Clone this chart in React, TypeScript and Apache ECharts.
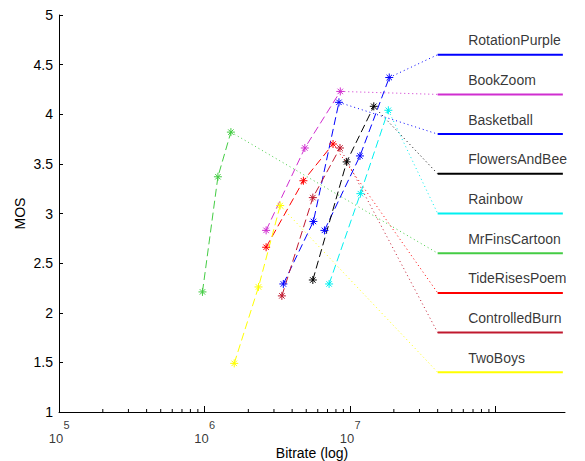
import React, { useEffect, useRef } from 'react';
import * as echarts from 'echarts';

// ---- data (bitrate in bit/s, MOS) ----
const SERIES_NAMES = ['RotationPurple', 'BookZoom', 'Basketball', 'FlowersAndBee', 'Rainbow', 'MrFinsCartoon', 'TideRisesPoem', 'ControlledBurn', 'TwoBoys'];
const SERIES_COLORS = ['#0000ff', '#d02ed0', '#0000ff', '#000000', '#00f0f0', '#44cc44', '#ff0000', '#c0182e', '#ffff00'];

const ROTATION_PURPLE_BITRATE = [6.67e6, 1.17e7, 1.86e7];
const ROTATION_PURPLE_MOS = [2.83, 3.58, 4.37];
const BOOK_ZOOM_BITRATE = [2.65e6, 4.89e6, 8.57e6];
const BOOK_ZOOM_MOS = [2.83, 3.66, 4.23];
const BASKETBALL_BITRATE = [3.48e6, 5.6e6, 8.39e6];
const BASKETBALL_MOS = [2.29, 2.92, 4.12];
const FLOWERS_BITRATE = [5.55e6, 9.48e6, 1.456e7];
const FLOWERS_MOS = [2.33, 3.52, 4.08];
const RAINBOW_BITRATE = [7.18e6, 1.178e7, 1.833e7];
const RAINBOW_MOS = [2.29, 3.2, 4.04];
const MRFINS_BITRATE = [9.68e5, 1.236e6, 1.518e6];
const MRFINS_MOS = [2.21, 3.37, 3.82];
const TIDE_BITRATE = [2.65e6, 4.78e6, 7.64e6];
const TIDE_MOS = [2.66, 3.33, 3.7];
const BURN_BITRATE = [3.4e6, 5.55e6, 8.53e6];
const BURN_MOS = [2.17, 3.16, 3.66];
const TWOBOYS_BITRATE = [1.6e6, 2.35e6, 3.31e6];
const TWOBOYS_MOS = [1.49, 2.26, 3.08];

const BITRATES = [ROTATION_PURPLE_BITRATE, BOOK_ZOOM_BITRATE, BASKETBALL_BITRATE, FLOWERS_BITRATE, RAINBOW_BITRATE, MRFINS_BITRATE, TIDE_BITRATE, BURN_BITRATE, TWOBOYS_BITRATE];
const MOS_VALUES = [ROTATION_PURPLE_MOS, BOOK_ZOOM_MOS, BASKETBALL_MOS, FLOWERS_MOS, RAINBOW_MOS, MRFINS_MOS, TIDE_MOS, BURN_MOS, TWOBOYS_MOS];

// in-plot legend rows
const LEGEND_MOS = [4.6, 4.2, 3.8, 3.4, 3.0, 2.6, 2.2, 1.8, 1.4];
const LEGEND_X = [4e7, 2.9e8];

// axis ticks
const X_MIN = 1e5;
const X_MAX = 3e8;
const Y_MIN = 1;
const MAJOR_TICKS = [1e5, 1e6, 1e7, 1e8];
const LABEL_TICKS = [1e5, 1e6, 1e7];
const LABEL_EXPONENTS = ['5', '6', '7'];
const MINOR_TICKS = [
  2e5, 3e5, 4e5, 5e5, 6e5, 7e5, 8e5, 9e5,
  2e6, 3e6, 4e6, 5e6, 6e6, 7e6, 8e6, 9e6,
  2e7, 3e7, 4e7, 5e7, 6e7, 7e7, 8e7, 9e7,
];

const FONT = "'Liberation Sans', Arial, sans-serif";
const ASTERISK = 'path://M5,0L5,10M0,5L10,5M1.6,1.6L8.4,8.4M1.6,8.4L8.4,1.6';

export default function App() {
  const ref = useRef<HTMLDivElement>(null);

  useEffect(() => {
    if (!ref.current) return;
    const chart = echarts.init(ref.current, undefined, { renderer: 'svg' });

    const series: any[] = [];
    SERIES_NAMES.forEach((name, i) => {
      const color = SERIES_COLORS[i];
      const b = BITRATES[i];
      const m = MOS_VALUES[i];
      const data = b.map((v, k) => [v, m[k]]);
      // dotted connector from last point to legend row
      series.push({
        type: 'line',
        name: name + '-link',
        data: [data[data.length - 1], [LEGEND_X[0], LEGEND_MOS[i]]],
        symbol: 'none',
        lineStyle: { color, width: 1, type: [1, 3] },
        z: 1,
        silent: true,
      });
      // legend line
      series.push({
        type: 'line',
        name: name + '-legend',
        data: [[LEGEND_X[0], LEGEND_MOS[i]], [LEGEND_X[1], LEGEND_MOS[i]]],
        symbol: 'none',
        lineStyle: { color, width: 2, type: 'solid' },
        z: 2,
        silent: true,
      });
      // legend label
      series.push({
        type: 'scatter',
        name: name + '-label',
        data: [[LEGEND_X[0], LEGEND_MOS[i]]],
        symbol: 'circle',
        symbolSize: 1,
        itemStyle: { color: 'transparent' },
        label: {
          show: true,
          formatter: name,
          position: [31, -14],
          align: 'left',
          verticalAlign: 'middle',
          fontSize: 14,
          fontFamily: FONT,
          color: '#000',
        },
        silent: true,
        z: 3,
      });
      // main dashed series with asterisks
      series.push({
        type: 'line',
        name,
        data,
        symbol: ASTERISK,
        symbolSize: 8,
        showSymbol: true,
        itemStyle: { color, borderColor: color, borderWidth: 1 },
        lineStyle: { color, width: 1, type: [8, 4] },
        z: 4,
      });
    });

    // minor ticks on the log x axis
    series.push({
      type: 'custom',
      name: 'minor-ticks',
      data: MINOR_TICKS.map((v) => [v, Y_MIN]),
      silent: true,
      clip: false,
      renderItem: (params: any, api: any) => {
        const p = api.coord([api.value(0), Y_MIN]);
        return {
          type: 'line',
          shape: { x1: p[0], y1: p[1], x2: p[0], y2: p[1] - 3 },
          style: { stroke: '#000', lineWidth: 1 },
        };
      },
      z: 5,
    });

    // x tick labels "10" with superscript exponent, anchored at the major ticks
    series.push({
      type: 'scatter',
      name: 'x-label-base',
      data: LABEL_TICKS.map((v) => [v, Y_MIN]),
      symbol: 'circle',
      symbolSize: 1,
      itemStyle: { color: 'transparent' },
      clip: false,
      silent: true,
      label: {
        show: true,
        formatter: '10',
        position: [-2.5, 26.5],
        align: 'center',
        verticalAlign: 'middle',
        fontSize: 13,
        fontFamily: FONT,
        color: '#000',
      },
      z: 6,
    });
    series.push({
      type: 'scatter',
      name: 'x-label-exp',
      data: LABEL_TICKS.map((v) => [v, Y_MIN]),
      symbol: 'circle',
      symbolSize: 1,
      itemStyle: { color: 'transparent' },
      clip: false,
      silent: true,
      label: {
        show: true,
        formatter: (p: any) => LABEL_EXPONENTS[p.dataIndex],
        position: [8, 13],
        align: 'center',
        verticalAlign: 'middle',
        fontSize: 11,
        fontFamily: FONT,
        color: '#000',
      },
      z: 6,
    });

    chart.setOption({
      animation: false,
      backgroundColor: '#ffffff',
      grid: { left: 59, right: 20, top: 15, bottom: 49, containLabel: false, outerBoundsMode: 'none' },
      xAxis: {
        type: 'log',
        logBase: 10,
        min: X_MIN,
        max: X_MAX,
        name: 'Bitrate (log)',
        nameLocation: 'middle',
        nameGap: 34,
        nameMoveOverlap: false,
        nameTextStyle: { fontSize: 14, color: '#000', fontFamily: FONT },
        axisLine: { show: true, lineStyle: { color: '#000', width: 1 } },
        axisTick: { show: true, inside: true, length: 6, customValues: MAJOR_TICKS, lineStyle: { color: '#000' } },
        minorTick: { show: false },
        splitLine: { show: false },
        axisLabel: { show: false },
      },
      yAxis: {
        type: 'value',
        min: Y_MIN,
        max: 5,
        interval: 0.5,
        name: 'MOS',
        nameLocation: 'middle',
        nameGap: 32,
        nameMoveOverlap: false,
        nameRotate: 90,
        nameTextStyle: { fontSize: 14, color: '#000', fontFamily: FONT },
        axisLine: { show: true, lineStyle: { color: '#000', width: 1 } },
        axisTick: { show: true, inside: true, length: 4, lineStyle: { color: '#000' } },
        splitLine: { show: false },
        axisLabel: { fontSize: 14, color: '#000', margin: 6, fontFamily: FONT },
      },
      series,
    });

    return () => chart.dispose();
  }, []);

  return (
    <div
      ref={ref}
      style={{ position: 'fixed', left: 0, top: 0, width: 585, height: 461, background: '#fff' }}
    />
  );
}
